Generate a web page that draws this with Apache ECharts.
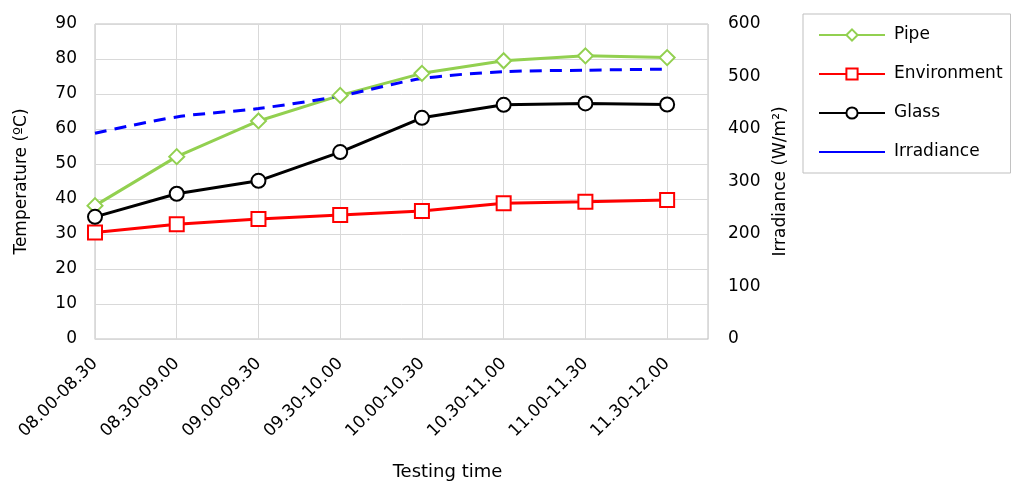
<!DOCTYPE html>
<html><head><meta charset="utf-8">
<script src="https://cdn.jsdelivr.net/npm/echarts@6/dist/echarts.min.js"></script>
<style>html,body{margin:0;padding:0;background:#fff}#c{width:1011px;height:482px}</style>
</head><body><div id="c"></div>
<script>
const categories = ['08.00-08.30','08.30-09.00','09.00-09.30','09.30-10.00','10.00-10.30','10.30-11.00','11.00-11.30','11.30-12.00'];
const pipe = [38.1, 52.1, 62.3, 69.6, 75.9, 79.5, 80.9, 80.4];
const environment = [30.4, 32.8, 34.3, 35.4, 36.6, 38.8, 39.2, 39.7];
const glass = [34.9, 41.5, 45.2, 53.4, 63.2, 66.9, 67.3, 67.0];
const irradiance = [392, 423, 439, 463, 496, 509, 512, 514];
const tempTicks = [0, 90, 10];
const irrTicks = [0, 600, 100];

const pair = arr => arr.map((v, i) => [i, v]);
const font = 'DejaVu Sans, sans-serif';
const fs = 17;
const chart = echarts.init(document.getElementById('c'));
chart.setOption({
  animation: false,
  textStyle: {fontFamily: font},
  grid: {left: 95, top: 24, right: 303, bottom: 143, show: true, borderColor: '#bfbfbf', borderWidth: 1, containLabel: false, outerBoundsMode: 'none'},
  legend: {
    orient: 'vertical', left: 803, top: 14,
    padding: [11, 8, 11, 15],
    borderColor: '#bfbfbf', borderWidth: 1,
    itemWidth: 66, itemHeight: 14, itemGap: 19,
    textStyle: {fontSize: fs, lineHeight: 20, color: '#000', fontFamily: font, padding: [0, 0, 0, 4]},
    data: [
      {name: 'Pipe'},
      {name: 'Environment'},
      {name: 'Glass'},
      {name: 'Irradiance', lineStyle: {type: 'solid'}, itemStyle: {color: 'rgba(0,0,0,0)', borderWidth: 0}}
    ]
  },
  xAxis: {
    type: 'value', min: 0, max: 7.5, interval: 1,
    name: 'Testing time', nameLocation: 'middle', nameGap: 124,
    nameTextStyle: {fontSize: 18, color: '#000', padding: [0, 0, 0, 92]},
    axisLine: {show: true, lineStyle: {color: '#d9d9d9'}},
    axisTick: {show: false},
    splitLine: {show: true, lineStyle: {color: '#d9d9d9'}},
    axisLabel: {
      rotate: 45, fontSize: fs, color: '#000', margin: 22,
      formatter: v => (Number.isInteger(v) && categories[v] !== undefined) ? categories[v] : ''
    }
  },
  yAxis: [
    {
      type: 'value', min: tempTicks[0], max: tempTicks[1], interval: tempTicks[2],
      name: 'Temperature (ºC)', nameLocation: 'middle', nameGap: 65, nameRotate: 90,
      nameTextStyle: {fontSize: fs, color: '#000'},
      axisLine: {show: false}, axisTick: {show: false},
      splitLine: {show: true, lineStyle: {color: '#d9d9d9'}},
      axisLabel: {fontSize: fs, color: '#000', margin: 18}
    },
    {
      type: 'value', min: irrTicks[0], max: irrTicks[1], interval: irrTicks[2],
      name: 'Irradiance (W/m²)', nameLocation: 'middle', nameGap: 64, nameRotate: 90,
      nameTextStyle: {fontSize: fs, color: '#000'},
      axisLine: {show: false}, axisTick: {show: false},
      splitLine: {show: false},
      axisLabel: {fontSize: fs, color: '#000', margin: 20}
    }
  ],
  series: [
    {
      name: 'Pipe', type: 'line', yAxisIndex: 0, data: pair(pipe),
      symbol: 'diamond', symbolSize: 15,
      lineStyle: {color: '#92d050', width: 3},
      itemStyle: {color: '#fff', borderColor: '#92d050', borderWidth: 2}
    },
    {
      name: 'Environment', type: 'line', yAxisIndex: 0, data: pair(environment),
      symbol: 'rect', symbolSize: 14,
      lineStyle: {color: '#ff0000', width: 3},
      itemStyle: {color: '#fff', borderColor: '#ff0000', borderWidth: 2}
    },
    {
      name: 'Glass', type: 'line', yAxisIndex: 0, data: pair(glass),
      symbol: 'circle', symbolSize: 14,
      lineStyle: {color: '#000', width: 3},
      itemStyle: {color: '#fff', borderColor: '#000', borderWidth: 2}
    },
    {
      name: 'Irradiance', type: 'line', yAxisIndex: 1, data: pair(irradiance),
      symbol: 'none', smooth: 0.3,
      lineStyle: {color: '#0000ff', width: 3, type: [12, 8]},
      itemStyle: {color: '#0000ff'}
    }
  ]
});
</script></body></html>
